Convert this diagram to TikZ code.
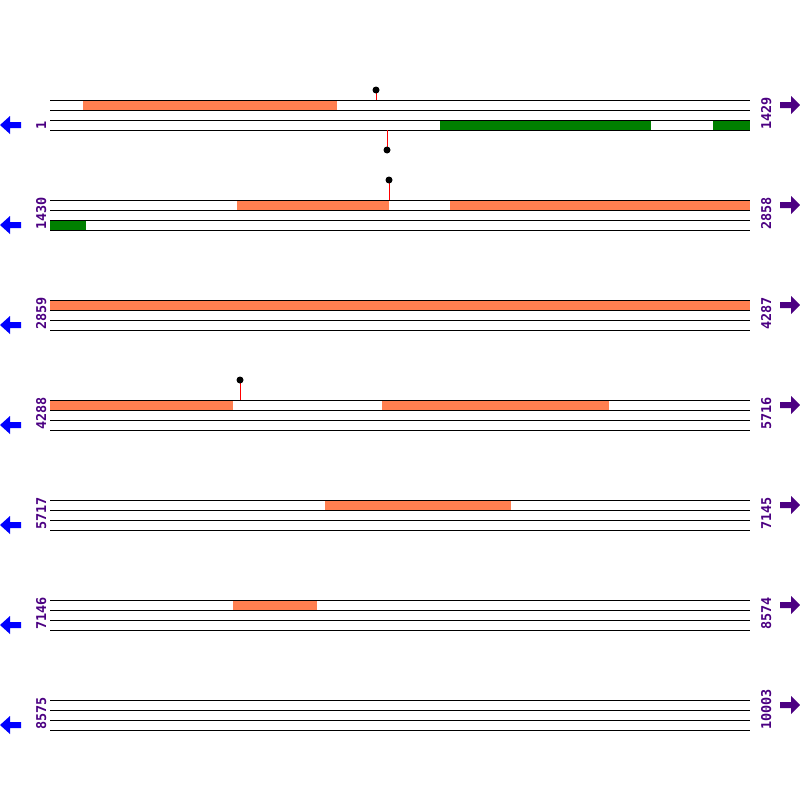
\documentclass[tikz,border=0pt]{standalone}
\usepackage{fontspec}
\setmonofont{DejaVu Sans Mono}
\definecolor{featorange}{RGB}{255,127,80}
\definecolor{featgreen}{RGB}{0,128,0}
\definecolor{numpurple}{RGB}{75,0,130}
\tikzstyle{strand} = [line width=1pt, black]
\tikzstyle{fwdfeat} = [fill=featorange]
\tikzstyle{revfeat} = [fill=featgreen]
\tikzstyle{coordlabel} = [rotate=90, anchor=base west, inner sep=0pt, text=numpurple, font=\ttfamily\bfseries\fontsize{13.5}{13.5}\selectfont]
\tikzstyle{stem} = [line width=1pt, red]
\tikzstyle{head} = [fill=black]

\begin{document}
\begin{tikzpicture}[x=1pt, y=-1pt]
	\useasboundingbox (0,0) rectangle (800,800);
	
	% Features
	\fill [fwdfeat] (83,100) rectangle (337,110);
	\fill [revfeat] (440,120) rectangle (651,130);
	\fill [revfeat] (713,120) rectangle (750,130);
	\fill [fwdfeat] (237,200) rectangle (389,210);
	\fill [fwdfeat] (450,200) rectangle (750,210);
	\fill [revfeat] (50,220) rectangle (86,230);
	\fill [fwdfeat] (50,300) rectangle (750,310);
	\fill [fwdfeat] (50,400) rectangle (233,410);
	\fill [fwdfeat] (382,400) rectangle (609,410);
	\fill [fwdfeat] (325,500) rectangle (511,510);
	\fill [fwdfeat] (233,600) rectangle (317,610);
	
	% Rows
	\foreach \i/\first/\last in {0/1/1429, 1/1430/2858, 2/2859/4287, 3/4288/5716, 4/5717/7145, 5/7146/8574, 6/8575/10003} {
		\pgfmathsetmacro{\y}{100+100*\i}
		\foreach \d in {0,10,20,30}
			\draw [strand] (50,\y+\d) -- (750,\y+\d);
		\node (first\i) [coordlabel] at (46,\y+30) {\first};
		\node (last\i) [coordlabel] at (771,\y+30) {\last};
		\fill [blue] (0,\y+25) -- (10,\y+16) -- (10,\y+22) -- (21,\y+22) -- (21,\y+28) -- (10,\y+28) -- (10,\y+34) -- cycle;
		\fill [numpurple] (800,\y+5) -- (791,\y-4) -- (791,\y+2) -- (780,\y+2) -- (780,\y+8) -- (791,\y+8) -- (791,\y+14) -- cycle;
	}
	
	% Sites
	\draw [stem] (376,90) -- (376,100);
	\fill [head] (376,90) circle (3.5);
	\draw [stem] (387,130) -- (387,150);
	\fill [head] (387,150) circle (3.5);
	\draw [stem] (389,180) -- (389,200);
	\fill [head] (389,180) circle (3.5);
	\draw [stem] (240,380) -- (240,400);
	\fill [head] (240,380) circle (3.5);
	
\end{tikzpicture}
\end{document}
